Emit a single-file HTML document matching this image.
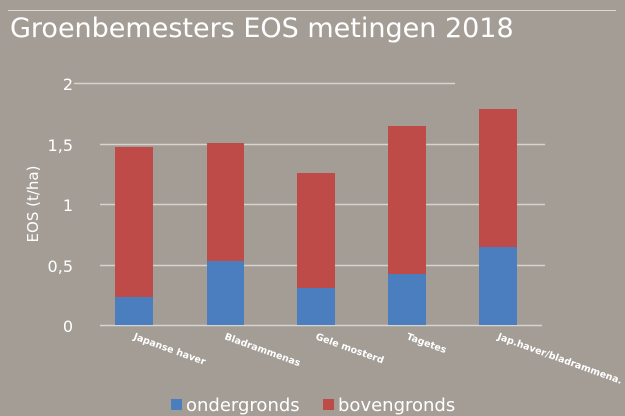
<!DOCTYPE html><html><head><style>html,body{margin:0;overflow:hidden}svg{display:block}svg text{font-family:"DejaVu Sans","Liberation Sans",sans-serif}</style></head><body>
<svg width="625" height="416" xmlns="http://www.w3.org/2000/svg">
<rect width="625" height="416" fill="#a39d96"/>
<line x1="8" y1="10.5" x2="616" y2="10.5" stroke="#ddd8d2" stroke-width="1"/>
<text x="10" y="37" font-size="27" fill="#fff">Groenbemesters EOS metingen 2018</text>
<g stroke="#d8d3cd" stroke-width="1.5">
<line x1="74" y1="83.5" x2="455" y2="83.5"/>
<line x1="100" y1="144.5" x2="545" y2="144.5"/>
<line x1="100" y1="204.5" x2="545" y2="204.5"/>
<line x1="100" y1="265.5" x2="545" y2="265.5"/>
<line x1="100" y1="325.5" x2="542" y2="325.5"/>
</g>
<g fill="#fff" font-size="16" text-anchor="end">
<text x="73" y="90">2</text><text x="73" y="151">1,5</text><text x="73" y="211">1</text><text x="73" y="272">0,5</text><text x="73" y="332">0</text>
</g>
<text transform="translate(38,204) rotate(-90)" font-size="15" fill="#fff" text-anchor="middle">EOS (t/ha)</text>
<g fill="#be4b48">
<rect x="115" y="147" width="38" height="150"/><rect x="207" y="143" width="37" height="118"/><rect x="297" y="173" width="38" height="115"/><rect x="388" y="126" width="38" height="148"/><rect x="479" y="109" width="38" height="138"/>
</g>
<g fill="#4a7ebf">
<rect x="115" y="297" width="38" height="28"/><rect x="207" y="261" width="37" height="64"/><rect x="297" y="288" width="38" height="37"/><rect x="388" y="274" width="38" height="51"/><rect x="479" y="247" width="38" height="78"/>
</g>
<g fill="#fff" font-size="9.5" font-weight="bold">
<text transform="translate(133,339) rotate(20)">Japanse haver</text>
<text transform="translate(224,339) rotate(20)">Bladrammenas</text>
<text transform="translate(315,339) rotate(20)">Gele mosterd</text>
<text transform="translate(406,339) rotate(20)">Tagetes</text>
<text transform="translate(497,339) rotate(20)">Jap.haver/bladrammena.</text>
</g>
<rect x="171" y="399" width="11" height="11" fill="#4a7ebf"/>
<text x="186" y="411" font-size="18" fill="#fff">ondergronds</text>
<rect x="323" y="399" width="11" height="11" fill="#be4b48"/>
<text x="338" y="411" font-size="18" fill="#fff">bovengronds</text>
</svg>
</body></html>
